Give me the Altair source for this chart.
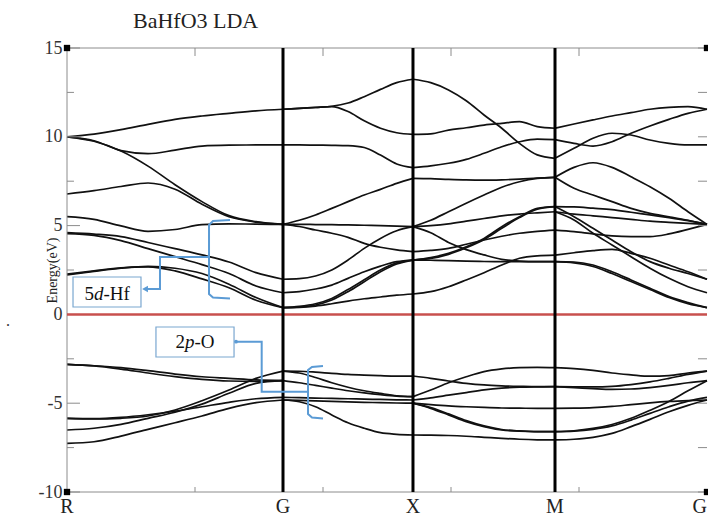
import altair as alt
import pandas as pd

# ---------------- data ----------------
K_SYM = [0.0, 0.3375, 0.5406, 0.7625, 1.0]
SYM_LABELS = ["R", "G", "X", "M", "G"]

K_RG = [0.0, 0.0422, 0.0844, 0.1266, 0.1688, 0.2109, 0.2531, 0.2953, 0.3375]
K_GX = [0.3375, 0.3629, 0.3883, 0.4137, 0.4391, 0.4644, 0.4898, 0.5152, 0.5406]
K_XM = [0.5406, 0.5683, 0.5961, 0.6238, 0.6516, 0.6793, 0.7070, 0.7348, 0.7625]
K_MG = [0.7625, 0.7922, 0.8219, 0.8516, 0.8813, 0.9109, 0.9406, 0.9703, 1.0]

RG = {
    "A": [10.0, 10.15, 10.4, 10.7, 10.98, 11.17, 11.32, 11.46, 11.55],
    "B": [10.0, 9.78, 9.22, 9.05, 9.25, 9.48, 9.53, 9.54, 9.54],
    "C": [10.0, 9.75, 9.2, 8.35, 7.3, 6.35, 5.56, 5.22, 5.07],
    "E": [6.78, 6.97, 7.2, 7.4, 7.05, 6.2, 5.5, 5.2, 5.07],
    "D": [5.5, 5.35, 4.98, 4.68, 4.78, 5.05, 5.1, 5.08, 5.07],
    "F1": [4.6, 4.52, 4.38, 4.05, 3.7, 3.35, 2.95, 2.35, 1.98],
    "F2": [4.55, 4.45, 4.15, 3.7, 3.25, 2.8, 2.3, 1.6, 1.22],
    "H1": [2.27, 2.45, 2.62, 2.68, 2.45, 2.0, 1.5, 0.8, 0.38],
    "H2": [2.22, 2.42, 2.6, 2.7, 2.6, 2.3, 1.7, 0.95, 0.38],
    "V1": [-2.81, -2.89, -3.0, -3.17, -3.36, -3.51, -3.6, -3.69, -3.73],
    "V2": [-2.81, -2.9, -3.08, -3.3, -3.5, -3.66, -3.75, -3.77, -3.73],
    "V3": [-5.85, -5.89, -5.85, -5.72, -5.38, -4.86, -4.26, -3.6, -3.19],
    "V4": [-5.85, -5.87, -5.8, -5.65, -5.45, -5.2, -4.95, -4.75, -4.67],
    "V5": [-6.51, -6.41, -6.19, -5.85, -5.51, -5.05, -4.44, -3.88, -3.73],
    "V6": [-7.26, -7.17, -6.85, -6.47, -6.1, -5.72, -5.29, -4.97, -4.82],
}
GX = {
    "1": [11.55, 11.6, 11.66, 11.72, 11.9, 12.26, 12.67, 13.05, 13.24],
    "2": [11.55, 11.6, 11.65, 11.7, 11.42, 10.9, 10.48, 10.23, 10.14],
    "3": [9.54, 9.54, 9.53, 9.52, 9.5, 9.4, 8.97, 8.47, 8.26],
    "4": [5.07, 5.3, 5.6, 5.97, 6.35, 6.72, 7.04, 7.38, 7.66],
    "5": [5.07, 5.07, 5.06, 5.05, 5.04, 5.02, 5.0, 4.97, 4.94],
    "6": [5.07, 4.95, 4.75, 4.57, 4.34, 4.0, 3.78, 3.63, 3.53],
    "7": [1.98, 2.01, 2.16, 2.5, 3.06, 3.72, 4.28, 4.71, 4.94],
    "8": [1.22, 1.28, 1.43, 1.65, 2.03, 2.4, 2.72, 2.97, 3.06],
    "9": [0.38, 0.42, 0.53, 0.81, 1.28, 1.84, 2.4, 2.84, 3.06],
    "10": [0.38, 0.45, 0.6, 0.9, 1.4, 1.95, 2.5, 2.9, 3.06],
    "11": [0.38, 0.4, 0.47, 0.6, 0.75, 0.88, 0.98, 1.08, 1.15],
    "V1": [-3.19, -3.2, -3.25, -3.32, -3.38, -3.42, -3.45, -3.47, -3.47],
    "V2": [-3.19, -3.3, -3.55, -3.85, -4.1, -4.3, -4.45, -4.58, -4.63],
    "V3": [-3.73, -3.85, -4.0, -4.15, -4.3, -4.42, -4.52, -4.6, -4.63],
    "V4": [-4.67, -4.69, -4.71, -4.73, -4.75, -4.77, -4.79, -4.81, -4.82],
    "V5": [-4.82, -4.84, -4.87, -4.9, -4.93, -4.95, -4.97, -4.99, -5.0],
    "V6": [-4.82, -4.92, -5.2, -5.66, -6.1, -6.41, -6.66, -6.75, -6.79],
}
XM = {
    "1": [13.24, 13.05, 12.64, 12.03, 11.23, 10.48, 9.63, 8.98, 8.79],
    "2": [10.14, 10.17, 10.38, 10.51, 10.66, 10.76, 10.85, 10.57, 10.48],
    "3": [8.26, 8.36, 8.51, 8.73, 9.07, 9.44, 9.72, 9.87, 9.84],
    "4": [7.66, 7.64, 7.6, 7.57, 7.56, 7.58, 7.62, 7.68, 7.72],
    "5": [4.94, 5.3, 5.78, 6.26, 6.72, 7.16, 7.47, 7.66, 7.72],
    "6": [4.94, 5.0, 5.1, 5.25, 5.4, 5.55, 5.65, 5.72, 5.78],
    "7": [3.06, 3.2, 3.44, 3.81, 4.28, 4.94, 5.5, 5.97, 6.07],
    "8": [3.06, 3.15, 3.38, 3.75, 4.22, 4.85, 5.45, 5.92, 6.07],
    "9": [3.53, 3.6, 3.72, 3.95, 4.19, 4.4, 4.57, 4.68, 4.75],
    "10": [3.06, 3.05, 3.03, 3.0, 2.98, 2.97, 2.97, 2.97, 2.97],
    "11": [4.94, 4.6, 4.05, 3.65, 3.35, 3.1, 3.0, 2.97, 2.97],
    "12": [1.15, 1.28, 1.56, 1.94, 2.35, 2.78, 3.16, 3.3, 3.34],
    "V1": [-4.63, -4.26, -3.85, -3.51, -3.22, -3.07, -3.0, -2.98, -3.0],
    "V2": [-3.47, -3.6, -3.75, -3.88, -3.97, -4.02, -4.05, -4.07, -4.07],
    "V3": [-4.82, -4.7, -4.55, -4.4, -4.25, -4.15, -4.1, -4.08, -4.07],
    "V4": [-5.0, -5.08, -5.15, -5.2, -5.24, -5.27, -5.28, -5.29, -5.29],
    "V5": [-5.0, -5.29, -5.66, -6.04, -6.32, -6.51, -6.58, -6.6, -6.6],
    "V6": [-5.0, -5.25, -5.6, -5.98, -6.28, -6.48, -6.56, -6.6, -6.6],
    "V7": [-6.79, -6.8, -6.82, -6.86, -6.92, -6.98, -7.03, -7.06, -7.07],
}
MG = {
    "1": [10.48, 10.72, 10.95, 11.17, 11.36, 11.55, 11.66, 11.7, 11.55],
    "2": [9.84, 9.63, 9.48, 9.72, 10.2, 10.61, 10.98, 11.32, 11.55],
    "3": [8.79, 9.35, 9.92, 10.2, 10.1, 9.82, 9.63, 9.54, 9.54],
    "4": [7.72, 8.28, 8.54, 8.28, 7.75, 7.19, 6.54, 5.78, 5.07],
    "5": [7.72, 7.1, 6.72, 6.35, 5.97, 5.69, 5.5, 5.3, 5.07],
    "6": [6.07, 6.05, 5.98, 5.9, 5.75, 5.6, 5.45, 5.28, 5.07],
    "7": [5.78, 5.65, 5.55, 5.45, 5.35, 5.25, 5.18, 5.12, 5.07],
    "8": [4.75, 4.66, 4.53, 4.42, 4.38, 4.38, 4.53, 4.79, 5.07],
    "9": [6.07, 5.5, 4.85, 4.19, 3.53, 2.97, 2.6, 2.3, 1.98],
    "10": [5.78, 5.32, 4.57, 3.91, 3.25, 2.6, 2.03, 1.56, 1.22],
    "11": [3.34, 3.47, 3.59, 3.66, 3.44, 3.16, 2.78, 2.4, 1.98],
    "12": [2.97, 2.95, 2.78, 2.4, 1.94, 1.47, 1.0, 0.66, 0.38],
    "13": [2.97, 2.9, 2.7, 2.3, 1.85, 1.4, 0.95, 0.6, 0.38],
    "V1": [-3.0, -3.05, -3.15, -3.3, -3.4, -3.48, -3.45, -3.3, -3.19],
    "V2": [-4.07, -4.08, -4.08, -4.05, -3.95, -3.8, -3.6, -3.38, -3.19],
    "V3": [-4.07, -4.12, -4.18, -4.22, -4.2, -4.12, -4.0, -3.85, -3.73],
    "V4": [-5.29, -5.28, -5.25, -5.18, -5.08, -4.98, -4.9, -4.85, -4.82],
    "V5": [-6.6, -6.57, -6.47, -6.28, -5.95, -5.57, -5.2, -4.88, -4.67],
    "V6": [-6.6, -6.55, -6.42, -6.2, -5.85, -5.4, -4.9, -4.3, -3.73],
    "V7": [-7.07, -7.03, -6.92, -6.7, -6.32, -5.91, -5.48, -5.12, -4.82],
}

Y_MAJOR = [15, 10, 5, 0, -5, -10]
Y_MINOR = [12.5, 7.5, 2.5, -2.5, -7.5]
X_TICKS = [0.2, 0.4, 0.6, 0.8]

# annotation geometry (data units)
TITLE_POS = (0.1031, 16.13)
SYM_LABEL_E = -11.18
STRAY_POS = (-0.092, -0.65)
BOX_5D = {"k1": 0.0094, "k2": 0.1156, "e1": 0.417, "e2": 2.106}
BOX_2P = {"k1": 0.139, "k2": 0.261, "e1": -2.399, "e2": -0.709}
BRACE_5D_K = [0.2547, 0.2281, 0.2219, 0.2219, 0.2281, 0.2547]
BRACE_5D_E = [5.315, 5.259, 5.034, 1.149, 0.952, 0.895]
LEAD_5D_K = [0.2219, 0.1453, 0.1453, 0.1250]
LEAD_5D_E = [3.232, 3.232, 1.43, 1.43]
BRACE_2P_K = [0.4, 0.3828, 0.3766, 0.3766, 0.3828, 0.4]
BRACE_2P_E = [-2.905, -2.962, -3.131, -5.608, -5.805, -5.861]
LEAD_2P_K = [0.375, 0.3042, 0.3042, 0.2641]
LEAD_2P_E = [-4.352, -4.352, -1.537, -1.537]

# tick lengths in data units
TL_LEFT_MAJOR = 0.0203
TL_LEFT_MINOR = 0.0109
TL_RIGHT = 0.0141
TL_TOP = 0.45
TL_BOTTOM = 0.28

# ---------------- build tables ----------------
rows = []
for seg, ks, bands in [("RG", K_RG, RG), ("GX", K_GX, GX), ("XM", K_XM, XM), ("MG", K_MG, MG)]:
    for name, es in bands.items():
        for i, (k, e) in enumerate(zip(ks, es)):
            rows.append({"k": k, "E": e, "curve": f"{seg}-{name}", "i": i})
band_df = pd.DataFrame(rows)

XS = alt.Scale(domain=[0, 1], nice=False, zero=False)
YS = alt.Scale(domain=[-10, 15], nice=False, zero=False)
SERIF = "Liberation Serif, Times New Roman, serif"
BLUE = "#5b9bd5"
GREY = "#8c8c8c"

Y_AXIS = alt.Axis(
    values=Y_MAJOR, labelExpr="'' + datum.value", labelFont=SERIF,
    labelFontSize=18, labelColor="#333333", labelPadding=5,
    ticks=False, domain=False, grid=False,
    title="Energy(eV)", titleFont=SERIF, titleFontSize=14,
    titleFontWeight="normal", titleColor="#222222", titleAngle=270,
    titleX=-15, titleY=222, titleAlign="center", titleBaseline="middle")


def X(f):
    return alt.X(f, scale=XS, axis=None)


def Y(f):
    return alt.Y(f, scale=YS, axis=Y_AXIS)


bands = alt.Chart(band_df).mark_line(
    interpolate="monotone", color="#111111", strokeWidth=1.7
).encode(x=X("k:Q"), y=Y("E:Q"), detail="curve:N", order="i:Q")

# frame (left, top, bottom)
frame_df = pd.DataFrame({"xa": [0, 0, 0], "xb": [0, 1, 1], "ya": [-10, 15, -10], "yb": [15, 15, -10]})
frame = alt.Chart(frame_df).mark_rule(color=GREY, strokeWidth=1).encode(
    x=X("xa:Q"), x2="xb:Q", y=Y("ya:Q"), y2="yb:Q")

tick_rows = []
for e in Y_MAJOR:
    tick_rows.append({"xa": 0, "xb": TL_LEFT_MAJOR, "ya": e, "yb": e})
for e in Y_MINOR:
    tick_rows.append({"xa": 0, "xb": TL_LEFT_MINOR, "ya": e, "yb": e})
for e in Y_MAJOR + Y_MINOR:
    tick_rows.append({"xa": 1 - TL_RIGHT, "xb": 1, "ya": e, "yb": e})
for k in X_TICKS:
    tick_rows.append({"xa": k, "xb": k, "ya": 15, "yb": 15 - TL_TOP})
    tick_rows.append({"xa": k, "xb": k, "ya": -10, "yb": -10 + TL_BOTTOM})
ticks = alt.Chart(pd.DataFrame(tick_rows)).mark_rule(color=GREY, strokeWidth=1).encode(
    x=X("xa:Q"), x2="xb:Q", y=Y("ya:Q"), y2="yb:Q")

zero_df = pd.DataFrame({"xa": [0], "xb": [1], "ya": [0], "yb": [0]})
zero_line = alt.Chart(zero_df).mark_rule(color="#c8504e", strokeWidth=2.5).encode(
    x=X("xa:Q"), x2="xb:Q", y=Y("ya:Q"), y2="yb:Q")

vl_df = pd.DataFrame({"xa": K_SYM[1:4], "xb": K_SYM[1:4], "ya": [-10] * 3, "yb": [15] * 3})
vlines = alt.Chart(vl_df).mark_rule(color="black", strokeWidth=3).encode(
    x=X("xa:Q"), x2="xb:Q", y=Y("ya:Q"), y2="yb:Q")

corners = alt.Chart(pd.DataFrame({"k": [0, 0, 1, 1], "E": [15, -10, -10, 15]})).mark_square(
    size=40, color="black", filled=True, opacity=1).encode(x=X("k:Q"), y=Y("E:Q"))

sym_df = pd.DataFrame({"k": K_SYM, "E": [SYM_LABEL_E] * 5, "t": SYM_LABELS})
sym_labels = alt.Chart(sym_df.iloc[:4]).mark_text(
    font=SERIF, fontSize=20, color="#222222", baseline="alphabetic", align="center").encode(
    x=X("k:Q"), y=Y("E:Q"), text="t:N")
sym_last = alt.Chart(sym_df.iloc[4:]).mark_text(
    font=SERIF, fontSize=20, color="#222222", baseline="alphabetic", align="right").encode(
    x=X("k:Q"), y=Y("E:Q"), text="t:N")

title = alt.Chart(pd.DataFrame({"k": [TITLE_POS[0]], "E": [TITLE_POS[1]], "t": ["BaHfO3 LDA"]})).mark_text(
    font=SERIF, fontSize=22, color="#222222", baseline="alphabetic", align="left").encode(
    x=X("k:Q"), y=Y("E:Q"), text="t:N")

stray = alt.Chart(pd.DataFrame({"k": [STRAY_POS[0]], "E": [STRAY_POS[1]], "t": ["."]})).mark_text(
    font=SERIF, fontSize=16, color="#333333", baseline="alphabetic", align="center").encode(
    x=X("k:Q"), y=Y("E:Q"), text="t:N")

box_df = pd.DataFrame([BOX_5D, BOX_2P])
boxes = alt.Chart(box_df).mark_rect(fill="white", stroke="#7aa7d0", strokeWidth=1.2).encode(
    x=X("k1:Q"), x2="k2:Q", y=Y("e1:Q"), y2="e2:Q")

txt_norm = alt.Chart(pd.DataFrame({"k": [0.0272, 0.0569, 0.1695, 0.1992], "E": [0.81, 0.81, -1.89, -1.89],
                                   "t": ["5", "-Hf", "2", "-O"]})).mark_text(
    font=SERIF, fontSize=19, color="#111111", baseline="alphabetic", align="left").encode(
    x=X("k:Q"), y=Y("E:Q"), text="t:N")
txt_ital = alt.Chart(pd.DataFrame({"k": [0.0420, 0.1844], "E": [0.81, -1.89], "t": ["d", "p"]})).mark_text(
    font=SERIF, fontSize=19, fontStyle="italic", color="#111111", baseline="alphabetic", align="left").encode(
    x=X("k:Q"), y=Y("E:Q"), text="t:N")

conn_rows = []
for name, ks, es in [("b5", BRACE_5D_K, BRACE_5D_E), ("l5", LEAD_5D_K, LEAD_5D_E),
                     ("b2", BRACE_2P_K, BRACE_2P_E), ("l2", LEAD_2P_K, LEAD_2P_E)]:
    for i, (k, e) in enumerate(zip(ks, es)):
        conn_rows.append({"k": k, "E": e, "p": name, "i": i})
conn = alt.Chart(pd.DataFrame(conn_rows)).mark_line(color=BLUE, strokeWidth=2).encode(
    x=X("k:Q"), y=Y("E:Q"), detail="p:N", order="i:Q")

arrow = alt.Chart(pd.DataFrame({"k": [0.1219], "E": [1.43]})).mark_point(
    shape="triangle-left", filled=True, size=45, color=BLUE, opacity=1).encode(x=X("k:Q"), y=Y("E:Q"))
dot = alt.Chart(pd.DataFrame({"k": [0.2641], "E": [-1.537]})).mark_point(
    shape="circle", filled=True, size=14, color=BLUE, opacity=1).encode(x=X("k:Q"), y=Y("E:Q"))

chart = alt.layer(
    bands, frame, ticks, zero_line, vlines, corners, sym_labels, sym_last, title, stray,
    boxes, txt_norm, txt_ital, conn, arrow, dot,
).properties(
    width=640, height=444,
    padding={"left": 67, "top": 48, "right": 1, "bottom": 26},
    autosize=alt.AutoSizeParams(type="none"),
).configure_view(stroke=None)

chart.save("out.html", embed_options={"renderer": "svg", "actions": False})
